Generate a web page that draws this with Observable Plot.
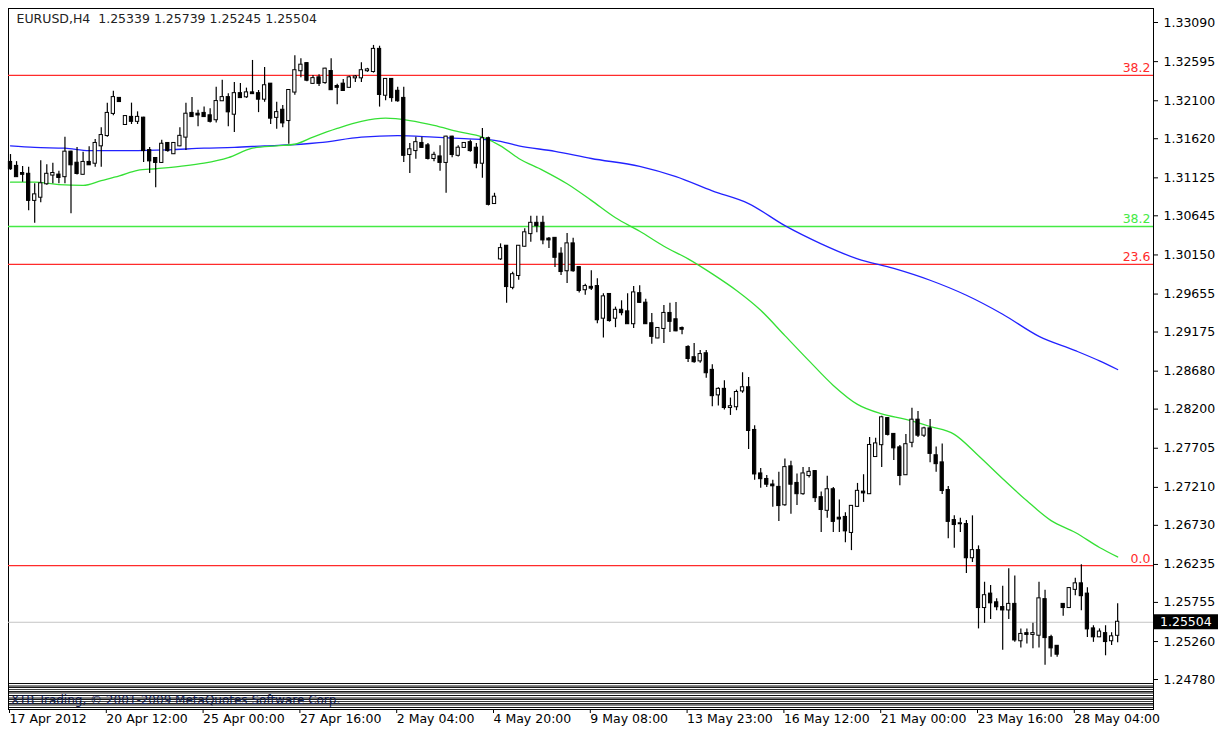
<!DOCTYPE html>
<html>
<head>
<meta charset="utf-8">
<script src="https://cdn.jsdelivr.net/npm/d3@7"></script>
<script src="https://cdn.jsdelivr.net/npm/@observablehq/plot@0.6"></script>
<style>
  html, body { margin: 0; padding: 0; background: #fff; }
  #wrap { position: relative; width: 1223px; height: 729px; font-family: "DejaVu Sans", sans-serif; }
  #wrap svg { display: block; }
  #stripes {
    position: absolute; left: 9px; top: 683px; width: 1144px; height: 26px; overflow: hidden;
    background: repeating-linear-gradient(to bottom, #1a1a1a 0px, #1a1a1a 1px, #ffffff 1px, #ffffff 2px, #8a8a8a 2px, #8a8a8a 3px, #ffffff 3px, #ffffff 4px);
  }
  #stripes span {
    position: absolute; left: 2px; top: 11px; font: 12px "DejaVu Sans", sans-serif; line-height: 13px;
    color: #14235a; white-space: nowrap;
  }
  #stripes::after {
    content: ""; position: absolute; left: 0; top: 0; right: 0; bottom: 0;
    background: repeating-linear-gradient(to bottom, rgba(0,0,0,0.55) 0px, rgba(0,0,0,0.55) 1px, rgba(0,0,0,0) 1px, rgba(0,0,0,0) 3px);
  }
</style>
</head>
<body>
<div id="wrap"><div id="stripes"><span>XTB Trading, © 2001-2009 MetaQuotes Software Corp.</span></div></div>
<script>
// ---- Data (EURUSD H4) ----
const symbol = "EURUSD,H4";

const open = [
1.3132,1.3127,1.3118,1.3117,1.3084,1.3088,1.3105,1.3116,1.3116,1.3114,
1.3145,1.3131,1.3117,1.3132,1.3131,1.3153,1.3166,1.3194,1.3213,1.3180,
1.3189,1.3184,1.3188,1.3147,1.3137,1.3132,1.3156,1.3143,1.3153,1.3164,
1.3194,1.3193,1.3194,1.3191,1.3186,1.3210,1.3214,1.3193,1.3219,1.3215,
1.3220,1.3219,1.3212,1.3231,1.3189,1.3198,1.3185,1.3221,1.3248,1.3257,
1.3232,1.3239,1.3233,1.3247,1.3228,1.3231,1.3227,1.3239,1.3239,1.3248,
1.3247,1.3275,1.3217,1.3237,1.3222,1.3213,1.3142,1.3147,1.3156,1.3153,
1.3137,1.3139,1.3132,1.3164,1.3141,1.3151,1.3157,1.3150,1.3131,1.3162,
1.3080,1.3010,1.3026,1.2974,1.2989,1.3026,1.3042,1.3055,1.3055,1.3035,
1.3036,1.3016,1.2995,1.3029,1.2999,1.2971,1.2974,1.2975,1.2935,1.2965,
1.2935,1.2945,1.2943,1.2928,1.2966,1.2954,1.2928,1.2910,1.2922,1.2941,
1.2933,1.2922,1.2898,1.2885,1.2881,1.2890,1.2869,1.2838,1.2845,1.2822,
1.2823,1.2843,1.2847,1.2793,1.2738,1.2731,1.2724,1.2721,1.2699,1.2747,
1.2726,1.2713,1.2736,1.2741,1.2708,1.2692,1.2718,1.2682,1.2683,1.2664,
1.2697,1.2715,1.2713,1.2760,1.2775,1.2808,1.2788,1.2771,1.2737,1.2778,
1.2806,1.2787,1.2795,1.2761,1.2752,1.2717,1.2679,1.2675,1.2674,1.2632,
1.2641,1.2569,1.2586,1.2575,1.2569,1.2566,1.2573,1.2527,1.2536,1.2535,
1.2534,1.2579,1.2531,1.2520,1.2573,1.2569,1.2592,1.2599,1.2586,1.2542,
1.2532,1.2536,1.2527,1.25339];

const high = [
1.3142,1.3133,1.3127,1.3126,1.3105,1.3134,1.3129,1.3131,1.3121,1.3164,
1.3146,1.3151,1.3145,1.3152,1.3161,1.3176,1.3207,1.3222,1.3214,1.3191,
1.3207,1.3196,1.3189,1.3151,1.3138,1.3160,1.3157,1.3157,1.3176,1.3207,
1.3214,1.3198,1.3202,1.3200,1.3227,1.3236,1.3219,1.3233,1.3232,1.3226,
1.3261,1.3223,1.3252,1.3232,1.3208,1.3204,1.3224,1.3267,1.3263,1.3258,
1.3242,1.3243,1.3251,1.3263,1.3231,1.3237,1.3241,1.3242,1.3258,1.3251,
1.3280,1.3279,1.3238,1.3238,1.3227,1.3227,1.3156,1.3164,1.3164,1.3156,
1.3145,1.3153,1.3165,1.3165,1.3153,1.3157,1.3160,1.3156,1.3175,1.3164,
1.3093,1.3029,1.3027,1.2993,1.3027,1.3048,1.3064,1.3064,1.3064,1.3037,
1.3037,1.3024,1.3042,1.3036,1.3000,1.2978,1.2995,1.2985,1.2966,1.2966,
1.2949,1.2957,1.2966,1.2975,1.2976,1.2959,1.2941,1.2923,1.2951,1.2954,
1.2955,1.2924,1.2900,1.2903,1.2894,1.2894,1.2876,1.2847,1.2856,1.2834,
1.2844,1.2866,1.2860,1.2799,1.2745,1.2736,1.2730,1.2740,1.2757,1.2754,
1.2738,1.2746,1.2746,1.2742,1.2715,1.2735,1.2721,1.2705,1.2689,1.2698,
1.2726,1.2737,1.2784,1.2783,1.2811,1.2809,1.2789,1.2774,1.2788,1.2821,
1.2817,1.2797,1.2807,1.2772,1.2776,1.2722,1.2685,1.2682,1.2679,1.2685,
1.2647,1.2601,1.2597,1.2580,1.2596,1.2618,1.2609,1.2542,1.2542,1.2549,
1.2601,1.2591,1.2534,1.2521,1.2574,1.2594,1.2606,1.2623,1.2594,1.2546,
1.2542,1.2546,1.2537,1.25739];

const low = [
1.3122,1.3113,1.3107,1.3071,1.3055,1.3081,1.3103,1.3105,1.3105,1.3105,
1.3067,1.3116,1.3116,1.3128,1.3126,1.3126,1.3164,1.3191,1.3208,1.3179,
1.3180,1.3180,1.3132,1.3118,1.3100,1.3131,1.3145,1.3142,1.3152,1.3147,
1.3189,1.3177,1.3189,1.3182,1.3182,1.3209,1.3177,1.3170,1.3213,1.3213,
1.3218,1.3195,1.3208,1.3180,1.3174,1.3176,1.3155,1.3217,1.3239,1.3234,
1.3231,1.3228,1.3231,1.3223,1.3205,1.3222,1.3226,1.3233,1.3233,1.3246,
1.3245,1.3202,1.3210,1.3208,1.3208,1.3132,1.3118,1.3136,1.3150,1.3135,
1.3133,1.3121,1.3093,1.3138,1.3139,1.3150,1.3145,1.3124,1.3112,1.3077,
1.3079,1.3008,1.2954,1.2971,1.2983,1.3025,1.3031,1.3043,1.3028,1.3023,
1.2999,1.2989,1.2979,1.2993,1.2967,1.2964,1.2970,1.2928,1.2910,1.2930,
1.2923,1.2938,1.2927,1.2922,1.2954,1.2927,1.2902,1.2909,1.2903,1.2917,
1.2918,1.2914,1.2879,1.2878,1.2878,1.2859,1.2823,1.2824,1.2819,1.2812,
1.2818,1.2840,1.2769,1.2730,1.2720,1.2721,1.2696,1.2678,1.2697,1.2687,
1.2698,1.2711,1.2733,1.2702,1.2664,1.2682,1.2664,1.2664,1.2651,1.2641,
1.2696,1.2702,1.2712,1.2759,1.2746,1.2786,1.2755,1.2723,1.2736,1.2771,
1.2784,1.2784,1.2752,1.2740,1.2712,1.2656,1.2644,1.2664,1.2612,1.2626,
1.2542,1.2549,1.2554,1.2565,1.2515,1.2554,1.2525,1.2518,1.2523,1.2517,
1.2518,1.2496,1.2506,1.2506,1.2558,1.2568,1.2584,1.2565,1.2531,1.2525,
1.2531,1.2508,1.2521,1.25245];

const close = [
1.3124,1.3114,1.3117,1.3084,1.3091,1.3105,1.3117,1.3118,1.3113,1.3145,
1.3129,1.3118,1.3132,1.3129,1.3156,1.3166,1.3194,1.3214,1.3209,1.3190,
1.3184,1.3189,1.3147,1.3134,1.3132,1.3155,1.3147,1.3156,1.3165,1.3193,
1.3190,1.3192,1.3190,1.3184,1.3209,1.3214,1.3196,1.3219,1.3214,1.3220,
1.3219,1.3212,1.3229,1.3188,1.3195,1.3182,1.3223,1.3248,1.3255,1.3236,
1.3238,1.3232,1.3250,1.3224,1.3227,1.3223,1.3239,1.3240,1.3248,1.3249,
1.3275,1.3218,1.3237,1.3214,1.3210,1.3141,1.3148,1.3157,1.3151,1.3137,
1.3141,1.3132,1.3164,1.3142,1.3150,1.3156,1.3147,1.3131,1.3162,1.3079,
1.3088,1.3023,1.2975,1.2990,1.3026,1.3043,1.3055,1.3052,1.3034,1.3034,
1.3012,1.2994,1.3029,1.2995,1.2970,1.2975,1.2973,1.2933,1.2962,1.2932,
1.2945,1.2942,1.2928,1.2967,1.2955,1.2928,1.2912,1.2922,1.2941,1.2931,
1.2919,1.2921,1.2884,1.2880,1.2889,1.2866,1.2837,1.2845,1.2822,1.2823,
1.2841,1.2847,1.2793,1.2738,1.2732,1.2725,1.2723,1.2698,1.2746,1.2725,
1.2713,1.2738,1.2740,1.2708,1.2693,1.2718,1.2678,1.2681,1.2666,1.2697,
1.2716,1.2714,1.2774,1.2776,1.2809,1.2788,1.2771,1.2736,1.2775,1.2806,
1.2787,1.2795,1.2764,1.2751,1.2717,1.2678,1.2674,1.2675,1.2632,1.2641,
1.2569,1.2584,1.2575,1.2570,1.2566,1.2573,1.2528,1.2535,1.2535,1.2536,
1.2580,1.2531,1.2518,1.2510,1.2569,1.2593,1.2599,1.2584,1.2542,1.2532,
1.2538,1.2526,1.2532,1.25504];

// Moving averages (sampled bars and values)
const maFastBars = [0,4,8,12,15,18,21,24,28,32,36,40,44,47,50,54,58,62,66,70,74,78,81,84,88,92,96,100,104,108,112,116,120,124,128,132,136,140,144,148,152,156,160,164,168,172,176,180,183];
const maFast = [1.3107,1.3107,1.3104,1.3103,1.3109,1.3115,1.3122,1.3124,1.3127,1.3131,1.3138,1.3150,1.3153,1.3155,1.3164,1.3175,1.3184,1.3188,1.3185,1.3179,1.3171,1.3164,1.3153,1.3137,1.3122,1.3105,1.3084,1.3062,1.3045,1.3026,1.3010,1.2991,1.2970,1.2945,1.2913,1.2881,1.2850,1.2826,1.2814,1.2807,1.2798,1.2788,1.2761,1.2732,1.2704,1.2679,1.2664,1.2645,1.2633];
const maSlowBars = [0,4,9,13,20,26,32,37,42,48,51,58,64,70,75,80,84,90,96,104,110,116,122,128,134,140,146,152,158,164,170,176,180,183];
const maSlow = [1.3153,1.3151,1.3150,1.3147,1.3147,1.3148,1.3150,1.3151,1.3153,1.3155,1.3157,1.3164,1.3166,1.3164,1.3162,1.3160,1.3153,1.3146,1.3137,1.3127,1.3114,1.3096,1.3080,1.3052,1.3029,1.3010,1.2998,1.2983,1.2964,1.2940,1.2912,1.2894,1.2881,1.2870];

// Fibonacci levels
const fibLevels = [1.3242, 1.3051, 1.3003, 1.2622];
const fibLabels = ["38.2", "38.2", "23.6", "0.0"];
const fibColors = ["#ff2b2b", "#44ea44", "#ff2b2b", "#ff2b2b"];

// Axes
const yTicks = [1.33090,1.32595,1.32100,1.31620,1.31125,1.30645,1.30150,1.29655,1.29175,1.28680,1.28200,1.27705,1.27210,1.26730,1.26235,1.25755,1.25260,1.24780];
const xTickBars = [0,16,32,48,64,80,96,112,128,144,160,176];
const xTickLabels = ["17 Apr 2012","20 Apr 12:00","25 Apr 00:00","27 Apr 16:00","2 May 04:00","4 May 20:00","9 May 08:00","13 May 23:00","16 May 12:00","21 May 00:00","23 May 16:00","28 May 04:00"];

// ---- Build tables ----
const bars = open.map((o, i) => ({i, o, h: high[i], l: low[i], c: close[i]}));
const fast = maFastBars.map((b, k) => ({b, v: maFast[k]}));
const slow = maSlowBars.map((b, k) => ({b, v: maSlow[k]}));
const fib = fibLevels.map((v, k) => ({v, t: fibLabels[k], c: fibColors[k]}));
const last = bars[bars.length - 1];
const f5 = d3.format(".5f");
const title = `${symbol}\u00a0\u00a0${f5(last.o)} ${f5(last.h)} ${f5(last.l)} ${f5(last.c)}`;
const n = bars.length - 1;

const plot = Plot.plot({
  width: 1223,
  height: 729,
  marginLeft: 8,
  marginRight: 70,
  marginTop: 8,
  marginBottom: 20,
  style: {fontFamily: '"DejaVu Sans", sans-serif', fontSize: "12.5px", color: "#000", background: "#fff", overflow: "visible"},
  x: {type: "linear", domain: [0, n], range: [10, 10 + n * 6.05]},
  y: {type: "linear", domain: [1.24780, 1.33090], range: [679, 22]},
  marks: [
    Plot.frame({stroke: "#000"}),
    Plot.axisY(yTicks, {anchor: "right", tickSize: 4, tickPadding: 6, tickFormat: f5, label: null}),
    Plot.axisX(xTickBars, {anchor: "bottom", tickSize: 4, tickPadding: 1, textAnchor: "start", dx: -1,
      tickFormat: d => xTickLabels[xTickBars.indexOf(d)], label: null}),
    Plot.ruleY(fib, {y: "v", stroke: "c", strokeWidth: 1.3}),
    Plot.text(fib, {y: "v", text: "t", fill: "c", frameAnchor: "right", textAnchor: "end", dx: -3, dy: -7}),
    Plot.ruleY([last.c], {stroke: "#c4c4c4", strokeWidth: 1}),
    Plot.line(slow, {x: "b", y: "v", stroke: "#2222ff", strokeWidth: 1.3, curve: "monotone-x"}),
    Plot.line(fast, {x: "b", y: "v", stroke: "#35e035", strokeWidth: 1.3, curve: "monotone-x"}),
    Plot.ruleX(bars, {x: "i", y1: "l", y2: "h", stroke: "#000", strokeWidth: 1.2}),
    Plot.rect(bars, {x1: d => d.i - 0.27, x2: d => d.i + 0.27, y1: "o", y2: "c",
      fill: d => d.c >= d.o ? "#ffffff" : "#000000", stroke: "#000", strokeWidth: 1,
      insetTop: -0.5, insetBottom: -0.5}),
    Plot.text([title], {frameAnchor: "top-left", dx: 8, dy: 6, fill: "#222"})
  ]
});

const wrap = document.getElementById("wrap");
wrap.insertBefore(plot, wrap.firstChild);

// Current price tag on the right axis, placed through the plot's y scale
const yPix = plot.scale("y").apply(last.c);
const svg = d3.select(plot);
svg.append("rect").attr("x", 1154).attr("y", yPix - 7.5).attr("width", 64).attr("height", 15).attr("fill", "#000");
svg.append("text").attr("x", 1160).attr("y", yPix).attr("dy", "0.36em").attr("fill", "#fff")
  .attr("text-anchor", "start").attr("font-size", "12.5px").text(f5(last.c));
</script>
</body>
</html>
